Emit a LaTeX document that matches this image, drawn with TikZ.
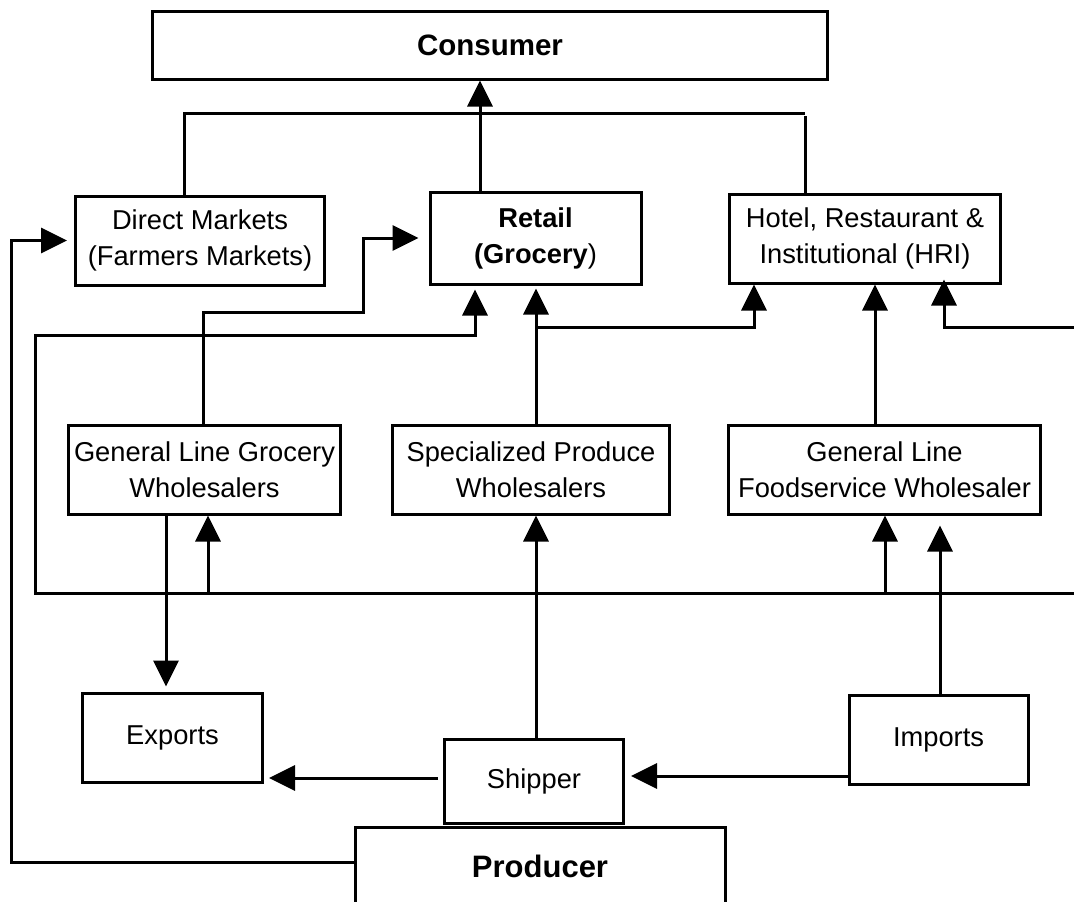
\documentclass[tikz,border=0pt]{standalone}
\usepackage{fontspec}
\setmainfont{Liberation Sans}
\usetikzlibrary{arrows.meta}

\begin{document}
\begin{tikzpicture}[x=1pt,y=-1pt,line width=3pt,
    box/.style={draw,rectangle,inner sep=0pt,align=center,
      font=\fontsize{27.3}{36}\selectfont},
    >={Triangle[length=26pt,width=25pt]}]
  \useasboundingbox (0,0) rectangle (1074,902);
  % boxes
  \node[box,minimum width=675pt,minimum height=68pt,
    font=\fontsize{29.5}{33}\selectfont\bfseries] (con) at (490,45) {Consumer};
  \node[box,minimum width=249pt,minimum height=89pt] (dm) at (200,240.5)
    {Direct Markets\\(Farmers Markets)};
  \node[box,minimum width=211pt,minimum height=92pt] (ret) at (535.5,238)
    {\textbf{Retail}\\\textbf{(Grocery})};
  \node[box,minimum width=271pt,minimum height=89pt] (hri) at (865,238.5)
    {Hotel, Restaurant \&\\Institutional (HRI)};
  \node[box,minimum width=272pt,minimum height=89pt] (glg) at (204.5,469.5)
    {General Line Grocery\\Wholesalers};
  \node[box,minimum width=277pt,minimum height=89pt] (spw) at (531,469.5)
    {Specialized Produce\\Wholesalers};
  \node[box,minimum width=312pt,minimum height=89pt] (glf) at (884.5,469.5)
    {General Line\\Foodservice Wholesaler};
  \node[box,minimum width=180pt,minimum height=89pt] (exp) at (172.5,737.5) {Exports};
  \node[box,minimum width=179pt,minimum height=89pt] (imp) at (938.5,739.5) {Imports};
  \node[box,minimum width=179pt,minimum height=84pt] (shp) at (534,781) {Shipper};
  \node[box,minimum width=370pt,minimum height=79pt,
    font=\fontsize{31}{33}\selectfont\bfseries] (pro) at (540,866.5) {Producer};

  % top line
  \coordinate (t1) at (184,113);
  \coordinate (t2) at (805,113);
  \draw (t1 |- dm.north) -- (t1) -- (t2);
  \draw (hri.north -| t2) -- ++(0,-77);
  \coordinate (rc) at (480,0);
  \draw[->] (rc |- ret.north) -- (rc |- con.south);

  % producer to direct markets
  \coordinate (l1) at (11,862);
  \draw[->,shorten >=7pt] (pro.west |- l1) -- (l1) |- (dm.west);

  % grocery wholesalers to retail
  \coordinate (g1) at (203,312);
  \coordinate (g2) at (363,312);
  \draw[->,shorten >=10pt] (g1 |- glg.north) -- (g1) -- (g2) |- (ret.west);

  % the long loop
  \coordinate (e1) at (1074,593);
  \coordinate (b1) at (35,593);
  \coordinate (b2) at (35,335);
  \coordinate (b3) at (475,335);
  \draw[->,shorten >=4pt] (e1) -- (b1) -- (b2) -- (b3) -- (b3 |- ret.south);
  \coordinate (b4) at (208,593);
  \coordinate (b5) at (885,593);
  \draw[->] (b4) -- (b4 |- glg.south);
  \draw[->] (b5) -- (b5 |- glf.south);

  % produce wholesalers up
  \coordinate (s1) at (536,327);
  \coordinate (s2) at (754,327);
  \draw[->,shorten >=3pt] (s1 |- spw.north) -- (s1 |- ret.south);
  \draw[->] (s1) -- (s2) -- (s2 |- hri.south);
  \coordinate (f1) at (875,400);
  \draw[->] (f1 |- glf.north) -- (f1 |- hri.south);
  \coordinate (r1) at (1074,327);
  \coordinate (r2) at (944,327);
  \draw[->,shorten >=-5pt] (r1) -- (r2) -- (r2 |- hri.south);

  % lower part
  \coordinate (x1) at (166,600);
  \draw[->,shorten >=5pt] (x1 |- glg.south) -- (x1 |- exp.north);
  \draw[->] (s1 |- shp.north) -- (s1 |- spw.south);
  \coordinate (i1) at (940,600);
  \draw[->,shorten >=10pt] (i1 |- imp.north) -- (i1 |- glf.south);
  \coordinate (h1) at (0,778);
  \coordinate (h2) at (0,776);
  \draw[->,shorten <=5pt,shorten >=5pt] (shp.west |- h1) -- (exp.east |- h1);
  \draw[->,shorten >=6pt] (imp.west |- h2) -- (shp.east |- h2);
\end{tikzpicture}
\end{document}
